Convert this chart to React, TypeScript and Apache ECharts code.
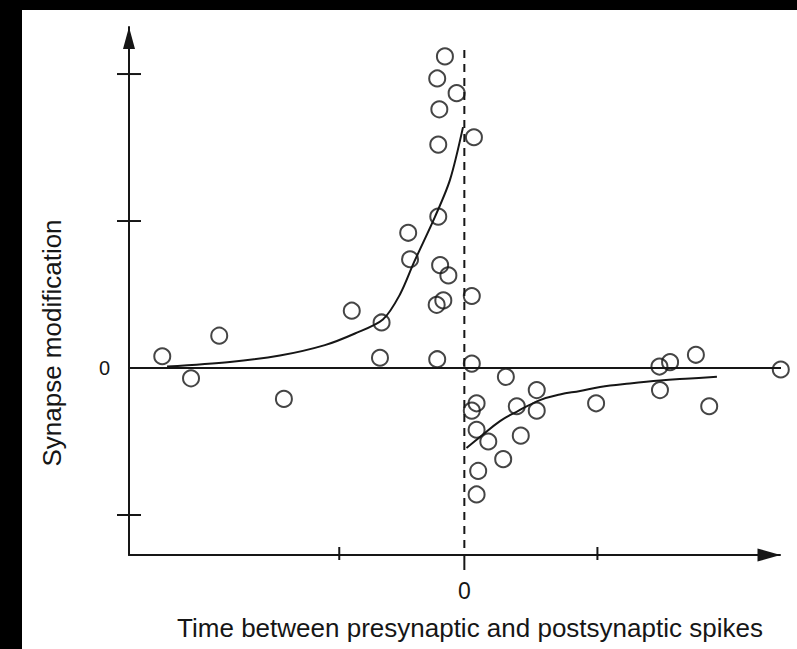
import React, { useEffect, useRef } from "react";
import * as echarts from "echarts";

// Scatter observations (time difference, synaptic change)
const circleTimes = [
  -7.3, -10.2, -2.9, -9.4, 3.6, -9.8, -9.8, -21.1, -20.4, -9.1, -6.0, 2.8, -7.9, -10.4,
  -42.3, -31.1, -31.7, -10.2, 2.8, 15.6, -113.5, -92.1, -102.7, -67.8, 27.2, 4.6, 2.8,
  19.7, 27.2, 49.5, 4.6, 9.0, 21.2, 14.6, 5.2, 4.6, 73.3, 77.3, 87.0, 118.9, 73.5, 92.0,
];
const circleChanges = [
  2.12, 1.97, 1.87, 1.76, 1.57, 1.52, 1.03, 0.92, 0.74, 0.7, 0.63, 0.49, 0.46, 0.43,
  0.39, 0.31, 0.07, 0.06, 0.03, -0.06, 0.08, 0.22, -0.07, -0.21, -0.15, -0.24, -0.29,
  -0.26, -0.29, -0.24, -0.42, -0.5, -0.46, -0.62, -0.7, -0.86, 0.01, 0.04, 0.09, -0.01,
  -0.15, -0.26,
];

// Fitted curve (potentiation side)
const ltpFitTimes = [-111.7, -88.1, -69.3, -52.4, -41.1, -30.6, -24.2, -18.9, -11.0, -5.4, -0.5];
const ltpFitChanges = [0.01, 0.041, 0.085, 0.156, 0.235, 0.33, 0.5, 0.72, 1.03, 1.28, 1.639];

// Fitted curve (depression side)
const ltdFitTimes = [0.8, 5.9, 13.4, 19.8, 28.4, 35.9, 43.5, 51.0, 62.2, 73.5, 84.8, 94.9];
const ltdFitChanges = [-0.544, -0.469, -0.361, -0.296, -0.218, -0.18, -0.156, -0.129, -0.105, -0.085, -0.071, -0.059];

// Axis ranges, ticks and labels
const xRange = [-126, 118.6];
const yRange = [-1.272, 2.32];
const xTickValues = [-47, 50];
const xZeroTick = [0];
const yTickValues = [-1, 1, 2];
const xLabelValues = [0];
const yLabelValues = [0];
const zeroLineTimes = [-128, 121.5];
const dashedLineChanges = [2.163, -1.272];

const xTitle = "Time between presynaptic and postsynaptic spikes";
const yTitle = "Synapse modification";

const INK = "#161616";
const FONT = "'Liberation Sans', Arial, Helvetica, sans-serif";

export default function App() {
  const ref = useRef<HTMLDivElement>(null);

  useEffect(() => {
    if (!ref.current) return;
    const chart = echarts.init(ref.current, undefined, { renderer: "svg" });

    const points = circleTimes.map((t, i) => [t, circleChanges[i]]);
    const ltp = ltpFitTimes.map((t, i) => [t, ltpFitChanges[i]]);
    const ltd = ltdFitTimes.map((t, i) => [t, ltdFitChanges[i]]);

    // tick mark drawer: offsets are pixel extents around the axis position
    const tickSeries = (data: number[][], vertical: boolean, before: number, after: number) => ({
      type: "custom",
      data,
      clip: false,
      silent: true,
      z: 4,
      renderItem: (_p: any, api: any) => {
        const pt = api.coord([api.value(0), api.value(1)]);
        const shape = vertical
          ? { x1: pt[0], y1: pt[1] - before, x2: pt[0], y2: pt[1] + after }
          : { x1: pt[0] - before, y1: pt[1], x2: pt[0] + after, y2: pt[1] };
        return { type: "line", shape, style: { stroke: INK, lineWidth: 2 } };
      },
    });

    chart.setOption({
      animation: false,
      backgroundColor: "#ffffff",
      grid: { left: 129, top: 27, width: 651, height: 528, containLabel: false },
      graphic: [
        { type: "rect", shape: { x: 0, y: 0, width: 797, height: 10 }, style: { fill: "#000" }, z: 100 },
        { type: "rect", shape: { x: 0, y: 0, width: 22, height: 649 }, style: { fill: "#000" }, z: 100 },
      ],
      xAxis: {
        type: "value",
        position: "bottom",
        min: xRange[0],
        max: xRange[1],
        axisLine: {
          onZero: false,
          lineStyle: { color: INK, width: 2 },
          symbol: ["none", "triangle"],
          symbolSize: [13, 23],
          symbolOffset: [0, -11],
        },
        axisTick: { show: false },
        axisLabel: {
          show: true,
          customValues: xLabelValues,
          formatter: (v: number) => String(v),
          fontSize: 23,
          fontFamily: FONT,
          color: INK,
          margin: 24,
        },
        splitLine: { show: false },
        name: xTitle,
        nameLocation: "middle",
        nameGap: 60,
        nameTextStyle: { fontSize: 26, fontFamily: FONT, color: INK, padding: [0, 0, 0, 31] },
      },
      yAxis: {
        type: "value",
        position: "left",
        min: yRange[0],
        max: yRange[1],
        axisLine: {
          onZero: false,
          lineStyle: { color: INK, width: 2 },
          symbol: ["none", "triangle"],
          symbolSize: [12, 22],
          symbolOffset: [0, -11],
        },
        axisTick: { show: false },
        axisLabel: {
          show: true,
          customValues: yLabelValues,
          formatter: (v: number) => String(v),
          fontSize: 20,
          fontFamily: FONT,
          color: INK,
          margin: 19,
        },
        splitLine: { show: false },
        name: yTitle,
        nameLocation: "middle",
        nameGap: 64,
        nameTextStyle: { fontSize: 26, fontFamily: FONT, color: INK, padding: [0, 104, 0, 0] },
      },
      series: [
        tickSeries(yTickValues.map((v) => [xRange[0], v]), false, 12, 12),
        tickSeries(xTickValues.map((v) => [v, yRange[0]]), true, 8, 5),
        tickSeries(xZeroTick.map((v) => [v, yRange[0]]), true, 0, 15),
        {
          type: "line",
          data: zeroLineTimes.map((t) => [t, 0]),
          clip: false,
          showSymbol: false,
          lineStyle: { color: INK, width: 2 },
          silent: true,
        },
        {
          type: "line",
          data: dashedLineChanges.map((c) => [0, c]),
          clip: false,
          showSymbol: false,
          lineStyle: { color: INK, width: 2, type: [8, 6] },
          silent: true,
        },
        {
          type: "line",
          data: ltp,
          smooth: 0.3,
          showSymbol: false,
          clip: false,
          lineStyle: { color: INK, width: 2 },
        },
        {
          type: "line",
          data: ltd,
          smooth: 0.4,
          showSymbol: false,
          clip: false,
          lineStyle: { color: INK, width: 2 },
        },
        {
          type: "scatter",
          data: points,
          symbol: "circle",
          symbolSize: 16,
          clip: false,
          itemStyle: { color: "rgba(0,0,0,0)", borderColor: INK, borderWidth: 2 },
          z: 5,
        },
      ],
    });

    return () => chart.dispose();
  }, []);

  return (
    <div
      ref={ref}
      style={{ position: "fixed", left: 0, top: 0, width: 797, height: 649, background: "#fff" }}
    />
  );
}
